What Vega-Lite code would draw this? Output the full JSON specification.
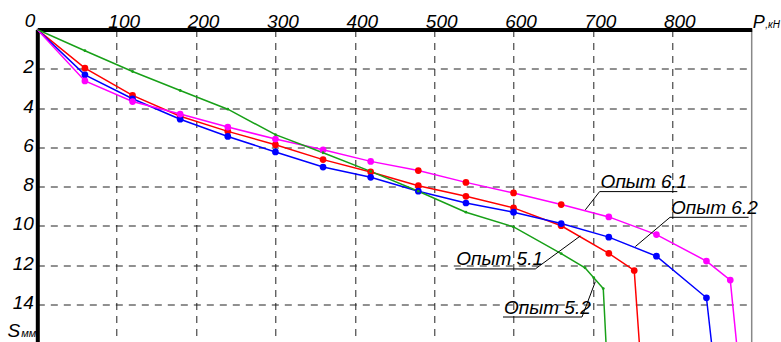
{
  "$schema": "https://vega.github.io/schema/vega-lite/v6.json",
  "width": 714.4,
  "height": 314,
  "autosize": {"type": "none"},
  "padding": {"left": 37.3, "top": 29.5, "right": 29.3, "bottom": 0},
  "background": "white",
  "config": {
    "view": {"stroke": "#888888", "strokeWidth": 1.5},
    "text": {"font": "Liberation Sans, Arial, sans-serif", "fontStyle": "italic", "color": "black"}
  },
  "datasets": {
    "series": [
      {"s": "Опыт 5.1", "P": 0, "S": 0}, {"s": "Опыт 5.1", "P": 60, "S": 1.97}, {"s": "Опыт 5.1", "P": 120, "S": 3.36},
      {"s": "Опыт 5.1", "P": 180, "S": 4.42}, {"s": "Опыт 5.1", "P": 240, "S": 5.19}, {"s": "Опыт 5.1", "P": 300, "S": 5.87},
      {"s": "Опыт 5.1", "P": 360, "S": 6.63}, {"s": "Опыт 5.1", "P": 420, "S": 7.26}, {"s": "Опыт 5.1", "P": 480, "S": 7.96},
      {"s": "Опыт 5.1", "P": 540, "S": 8.5}, {"s": "Опыт 5.1", "P": 600, "S": 9.09}, {"s": "Опыт 5.1", "P": 660, "S": 10.0},
      {"s": "Опыт 5.1", "P": 720, "S": 11.41}, {"s": "Опыт 5.1", "P": 752, "S": 12.28}, {"s": "Опыт 5.1", "P": 758.5, "S": 16},
      {"s": "Опыт 6.2", "P": 0, "S": 0}, {"s": "Опыт 6.2", "P": 60, "S": 2.31}, {"s": "Опыт 6.2", "P": 120, "S": 3.53},
      {"s": "Опыт 6.2", "P": 180, "S": 4.57}, {"s": "Опыт 6.2", "P": 240, "S": 5.45}, {"s": "Опыт 6.2", "P": 300, "S": 6.24},
      {"s": "Опыт 6.2", "P": 360, "S": 7.01}, {"s": "Опыт 6.2", "P": 420, "S": 7.53}, {"s": "Опыт 6.2", "P": 480, "S": 8.24},
      {"s": "Опыт 6.2", "P": 540, "S": 8.84}, {"s": "Опыт 6.2", "P": 600, "S": 9.31}, {"s": "Опыт 6.2", "P": 660, "S": 9.89},
      {"s": "Опыт 6.2", "P": 720, "S": 10.58}, {"s": "Опыт 6.2", "P": 780, "S": 11.55}, {"s": "Опыт 6.2", "P": 843, "S": 13.67},
      {"s": "Опыт 6.2", "P": 849.5, "S": 16},
      {"s": "Опыт 6.1", "P": 0, "S": 0}, {"s": "Опыт 6.1", "P": 60, "S": 2.62}, {"s": "Опыт 6.1", "P": 120, "S": 3.67},
      {"s": "Опыт 6.1", "P": 180, "S": 4.31}, {"s": "Опыт 6.1", "P": 240, "S": 4.97}, {"s": "Опыт 6.1", "P": 300, "S": 5.58},
      {"s": "Опыт 6.1", "P": 360, "S": 6.13}, {"s": "Опыт 6.1", "P": 420, "S": 6.72}, {"s": "Опыт 6.1", "P": 480, "S": 7.19, "m": "Опыт 5.1"},
      {"s": "Опыт 6.1", "P": 540, "S": 7.79, "m": "Опыт 5.1"}, {"s": "Опыт 6.1", "P": 600, "S": 8.33, "m": "Опыт 5.1"}, {"s": "Опыт 6.1", "P": 660, "S": 8.92, "m": "Опыт 5.1"},
      {"s": "Опыт 6.1", "P": 720, "S": 9.55}, {"s": "Опыт 6.1", "P": 780, "S": 10.45}, {"s": "Опыт 6.1", "P": 843, "S": 11.8},
      {"s": "Опыт 6.1", "P": 873, "S": 12.77}, {"s": "Опыт 6.1", "P": 881, "S": 16},
      {"s": "Опыт 5.2", "P": 0, "S": 0}, {"s": "Опыт 5.2", "P": 60, "S": 1.08}, {"s": "Опыт 5.2", "P": 120, "S": 2.14},
      {"s": "Опыт 5.2", "P": 180, "S": 3.11}, {"s": "Опыт 5.2", "P": 240, "S": 4.06}, {"s": "Опыт 5.2", "P": 300, "S": 5.36},
      {"s": "Опыт 5.2", "P": 360, "S": 6.28}, {"s": "Опыт 5.2", "P": 420, "S": 7.23}, {"s": "Опыт 5.2", "P": 480, "S": 8.24},
      {"s": "Опыт 5.2", "P": 540, "S": 9.31}, {"s": "Опыт 5.2", "P": 600, "S": 10.06}, {"s": "Опыт 5.2", "P": 660, "S": 11.42},
      {"s": "Опыт 5.2", "P": 690, "S": 12.14}, {"s": "Опыт 5.2", "P": 701, "S": 12.65}, {"s": "Опыт 5.2", "P": 713, "S": 13.2},
      {"s": "Опыт 5.2", "P": 716.5, "S": 16}
    ],
    "segments": [
      {"P": 708.4, "S": 8.26, "P2": 806.3, "S2": 8.26},
      {"P": 708.4, "S": 8.26, "P2": 690.4, "S2": 9.19},
      {"P": 797.1, "S": 9.57, "P2": 896.1, "S2": 9.57},
      {"P": 797.1, "S": 9.57, "P2": 753.4, "S2": 11.06},
      {"P": 526.6, "S": 12.2, "P2": 627.4, "S2": 12.2},
      {"P": 627.4, "S": 12.2, "P2": 684.1, "S2": 10.52},
      {"P": 586.7, "S": 14.65, "P2": 686.2, "S2": 14.65},
      {"P": 686.2, "S": 14.65, "P2": 703, "S2": 12.85}
    ],
    "labels": [
      {"label": "Опыт 6.1", "P": 708.4, "S": 8.26},
      {"label": "Опыт 6.2", "P": 797.1, "S": 9.57},
      {"label": "Опыт 5.1", "P": 526.6, "S": 12.2},
      {"label": "Опыт 5.2", "P": 586.7, "S": 14.65}
    ],
    "corner": [
      {"t": "0", "P": 0, "S": 0},
      {"t": "P", "P": 900, "S": 0},
      {"t": ",кН", "P": 900, "S": 0},
      {"t": "S", "P": 0, "S": 16},
      {"t": "мм", "P": 0, "S": 16}
    ]
  },
  "encoding": {
    "x": {
      "field": "P", "type": "quantitative",
      "scale": {"domain": [0, 900], "nice": false, "zero": false},
      "axis": {
        "orient": "top", "values": [0, 100, 200, 300, 400, 500, 600, 700, 800], "title": null,
        "grid": true, "gridDash": [7, 6], "gridColor": "#222222", "gridWidth": 1, "gridOpacity": 1,
        "domainWidth": 4, "domainColor": "black", "ticks": false, "tickSize": 0,
        "labelFont": "Liberation Sans, Arial, sans-serif",
        "labelFontSize": 19, "labelFontStyle": "italic", "labelColor": "black",
        "labelPadding": 2.5, "labelBaseline": "alphabetic", "labelOffset": 7,
        "labelFlush": false, "labelOverlap": false, "labelBound": false,
        "labelExpr": "datum.value == 0 ? '' : datum.label"
      }
    },
    "y": {
      "field": "S", "type": "quantitative",
      "scale": {"domain": [0, 16], "nice": false, "zero": false, "reverse": true},
      "axis": {
        "orient": "left", "values": [0, 2, 4, 6, 8, 10, 12, 14], "title": null,
        "grid": true, "gridDash": [7, 6], "gridColor": "#222222", "gridWidth": 1, "gridOpacity": 1,
        "domainWidth": 4, "domainColor": "black", "ticks": false, "tickSize": 0,
        "labelFont": "Liberation Sans, Arial, sans-serif",
        "labelFontSize": 19, "labelFontStyle": "italic", "labelColor": "black",
        "labelPadding": 4, "labelAlign": "right", "labelBaseline": "middle", "labelOffset": -2,
        "labelFlush": false, "labelOverlap": false, "labelBound": false,
        "labelExpr": "datum.value == 0 ? '' : datum.label"
      }
    }
  },
  "layer": [
    {
      "data": {"name": "series"},
      "mark": {"type": "line", "strokeWidth": 1.5, "clip": true},
      "encoding": {
        "color": {"field": "s", "type": "nominal", "legend": null,
          "scale": {"domain": ["Опыт 5.1", "Опыт 5.2", "Опыт 6.1", "Опыт 6.2"], "range": ["#ff0000", "#18a018", "#ff00ff", "#0000ff"]}},
        "detail": {"field": "s"}
      }
    },
    {
      "data": {"name": "series"},
      "transform": [
        {"filter": "datum.P > 0 && datum.S < 16 && datum.s != 'Опыт 5.2'"},
        {"calculate": "datum.m ? datum.m : datum.s", "as": "mk"}
      ],
      "mark": {"type": "point", "filled": true, "opacity": 1, "size": 45},
      "encoding": {
        "color": {"field": "mk", "type": "nominal", "legend": null,
          "scale": {"domain": ["Опыт 5.1", "Опыт 5.2", "Опыт 6.1", "Опыт 6.2"], "range": ["#ff0000", "#18a018", "#ff00ff", "#0000ff"]}}
      }
    },
    {
      "data": {"name": "series"},
      "transform": [{"filter": "datum.P > 0 && datum.S < 16 && datum.s == 'Опыт 5.2'"}],
      "mark": {"type": "point", "filled": true, "opacity": 1, "size": 8, "color": "#18a018"}
    },
    {
      "data": {"name": "segments"},
      "mark": {"type": "rule", "color": "black", "strokeWidth": 1},
      "encoding": {"x2": {"field": "P2"}, "y2": {"field": "S2"}}
    },
    {
      "data": {"name": "labels"},
      "mark": {"type": "text", "align": "left", "baseline": "alphabetic", "dx": 1, "dy": -3.5, "fontSize": 19},
      "encoding": {"text": {"field": "label"}}
    },
    {
      "data": {"name": "corner"},
      "transform": [{"filter": "datum.t == '0'"}],
      "mark": {"type": "text", "align": "right", "baseline": "alphabetic", "dx": -2, "dy": -3, "fontSize": 19},
      "encoding": {"text": {"field": "t"}}
    },
    {
      "data": {"name": "corner"},
      "transform": [{"filter": "datum.t == 'P'"}],
      "mark": {"type": "text", "align": "left", "baseline": "alphabetic", "dx": 1, "dy": -1.5, "fontSize": 18},
      "encoding": {"text": {"field": "t"}}
    },
    {
      "data": {"name": "corner"},
      "transform": [{"filter": "datum.t == ',кН'"}],
      "mark": {"type": "text", "align": "left", "baseline": "alphabetic", "dx": 13.5, "dy": -1.5, "fontSize": 10},
      "encoding": {"text": {"field": "t"}}
    },
    {
      "data": {"name": "corner"},
      "transform": [{"filter": "datum.t == 'S'"}],
      "mark": {"type": "text", "align": "right", "baseline": "alphabetic", "dx": -17, "dy": -6.5, "fontSize": 19},
      "encoding": {"text": {"field": "t"}}
    },
    {
      "data": {"name": "corner"},
      "transform": [{"filter": "datum.t == 'мм'"}],
      "mark": {"type": "text", "align": "left", "baseline": "alphabetic", "dx": -16, "dy": -6.5, "fontSize": 11},
      "encoding": {"text": {"field": "t"}}
    }
  ]
}
